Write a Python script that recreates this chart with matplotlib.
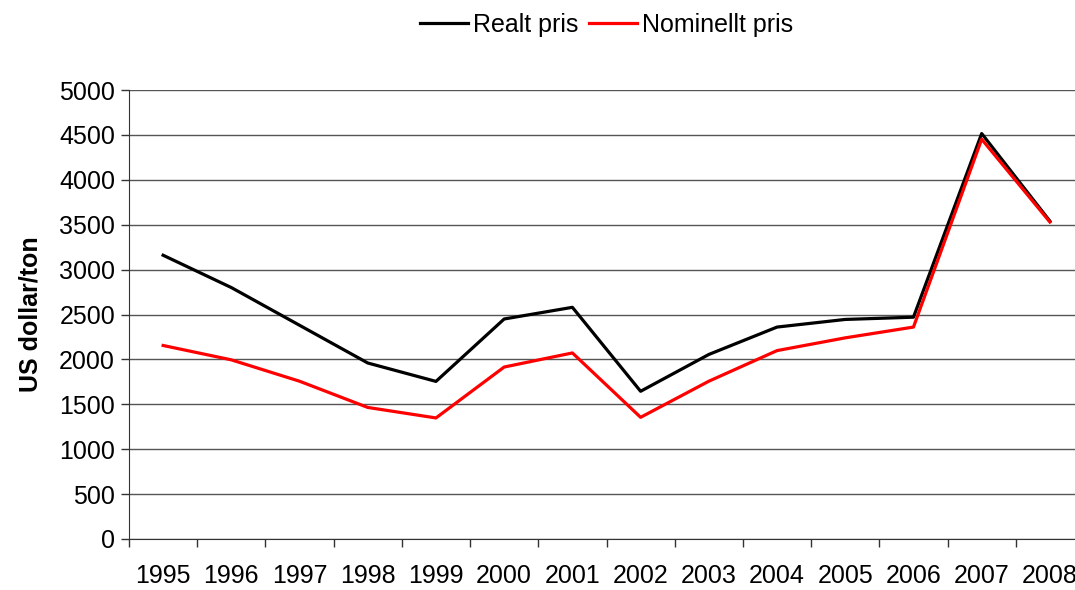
import matplotlib.pyplot as plt

plt.rcParams['font.family'] = ['Liberation Sans', 'DejaVu Sans']

# data
years = ['1995', '1996', '1997', '1998', '1999', '2000', '2001',
         '2002', '2003', '2004', '2005', '2006', '2007', '2008']
realt = [3160, 2800, 2380, 1960, 1755, 2450, 2580,
         1645, 2055, 2360, 2445, 2470, 4515, 3540]
nominellt = [2155, 1995, 1757, 1465, 1348, 1915, 2072,
             1355, 1757, 2098, 2240, 2360, 4452, 3530]

fig = plt.figure(figsize=(10.75, 5.9), dpi=100)
# the axis runs past the right edge of the image, as in the original
ax = fig.add_axes([129 / 1075, 51 / 590, 955 / 1075, 449 / 590])

x = list(range(len(years)))
ax.plot(x, realt, color='black', lw=2.3, label='Realt pris')
ax.plot(x, nominellt, color='#ff0000', lw=2.3, label='Nominellt pris')

ax.set_xlim(-0.5, len(years) - 0.5)
ax.set_ylim(0, 5000)
ax.set_yticks(range(0, 5001, 500))
ax.yaxis.grid(True, color='#555555', lw=1)
ax.set_axisbelow(True)

# labels in the middle of each category, ticks on the boundaries
ax.set_xticks(x)
ax.set_xticklabels(years)
ax.set_xticks([i - 0.5 for i in range(len(years) + 1)], minor=True)
ax.tick_params(axis='x', which='major', length=0, pad=18, labelsize=18)
ax.tick_params(axis='x', which='minor', length=6, width=1, color='#333333')
ax.tick_params(axis='y', length=6, width=1, color='#333333', labelsize=18, pad=4)

for s in ['top', 'right']:
    ax.spines[s].set_visible(False)
for s in ['left', 'bottom']:
    ax.spines[s].set_color('#333333')

ax.set_ylabel('US dollar/ton', fontsize=18, fontweight='bold', labelpad=12)

ax.legend(loc='center', bbox_to_anchor=(0.5, 1.145), ncol=2, frameon=False,
          fontsize=18, handlelength=1.9, handletextpad=0.2, columnspacing=0.45)

fig.savefig('out.png', dpi=100)
